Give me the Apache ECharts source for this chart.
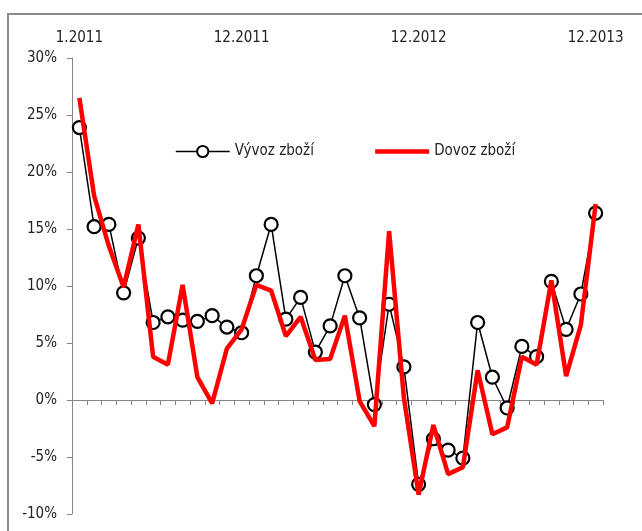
<!DOCTYPE html>
<html>
<head>
<meta charset="utf-8">
<script src="https://cdn.jsdelivr.net/npm/echarts@6/dist/echarts.min.js"></script>
<style>
html,body{margin:0;padding:0;background:#fff;}
#chart{width:642px;height:531px;}
</style>
</head>
<body>
<div id="chart"></div>
<script>
const months = [
  '1.2011','2.2011','3.2011','4.2011','5.2011','6.2011','7.2011','8.2011','9.2011','10.2011','11.2011','12.2011',
  '1.2012','2.2012','3.2012','4.2012','5.2012','6.2012','7.2012','8.2012','9.2012','10.2012','11.2012','12.2012',
  '1.2013','2.2013','3.2013','4.2013','5.2013','6.2013','7.2013','8.2013','9.2013','10.2013','11.2013','12.2013'
];
const shownLabels = ['1.2011','12.2011','12.2012','12.2013'];
const vyvoz = [23.9,15.2,15.4,9.4,14.2,6.8,7.3,7.0,6.9,7.4,6.4,5.9,
               10.9,15.4,7.1,9.0,4.2,6.5,10.9,7.2,-0.4,8.4,2.9,-7.4,
               -3.4,-4.4,-5.1,6.8,2.0,-0.7,4.7,3.8,10.4,6.2,9.3,16.4];
const dovoz = [26.5,17.9,13.5,9.9,15.4,3.8,3.1,10.1,2.0,-0.3,4.5,6.2,
               10.1,9.6,5.6,7.3,3.5,3.6,7.4,-0.1,-2.3,14.8,0.2,-8.3,
               -2.2,-6.5,-5.9,2.6,-3.0,-2.4,3.8,3.1,10.5,2.1,6.6,17.2];
const yTicks = {min:-10, max:30, step:5};

const FONT = "'Liberation Sans Narrow','DejaVu Sans Condensed',Arial,sans-serif";
const chart = echarts.init(document.getElementById('chart'));
chart.setOption({
  animation:false,
  backgroundColor:'#fff',
  graphic:[{type:'rect',shape:{x:8,y:14,width:700,height:600},
            style:{fill:'none',stroke:'#8c8c8c',lineWidth:2},silent:true}],
  grid:{left:72,top:58,right:39,bottom:17,containLabel:false},
  legend:{
    left:170, top:139, itemWidth:54, itemHeight:14, itemGap:59,
    textStyle:{fontFamily:FONT,fontSize:15,color:'#222'},
    data:[
      {name:'Vývoz zboží', lineStyle:{width:1.5}},
      {name:'Dovoz zboží', lineStyle:{width:4.5}, itemStyle:{color:'rgba(0,0,0,0)',borderWidth:0,opacity:0}}
    ]
  },
  xAxis:[{
    type:'category', data:months, position:'bottom', boundaryGap:true,
    axisLine:{onZero:true,lineStyle:{color:'#868686',width:1}},
    axisTick:{show:true,interval:0,length:5,inside:false,lineStyle:{color:'#868686'}},
    axisLabel:{show:false}, splitLine:{show:false}
  },{
    type:'category', data:months, position:'top', boundaryGap:true,
    axisLine:{show:false}, axisTick:{show:false}, splitLine:{show:false},
    axisLabel:{
      interval:0, margin:12,
      formatter:v=> shownLabels.includes(v)?v:'',
      fontFamily:FONT,fontSize:15,color:'#222'
    }
  }],
  yAxis:{
    type:'value', min:yTicks.min, max:yTicks.max, interval:yTicks.step,
    axisLine:{show:true,lineStyle:{color:'#868686',width:1}},
    axisTick:{show:true,length:5,lineStyle:{color:'#868686'}},
    splitLine:{show:false},
    axisLabel:{formatter:'{value}%',margin:15,fontFamily:FONT,fontSize:15,color:'#222'}
  },
  series:[{
    name:'Vývoz zboží', type:'line', data:vyvoz, xAxisIndex:0,
    symbol:'circle', symbolSize:13, showAllSymbol:true,
    lineStyle:{color:'#000',width:1.5},
    itemStyle:{color:'#fff',borderColor:'#000',borderWidth:2.2},
    z:2
  },{
    name:'Dovoz zboží', type:'line', data:dovoz, xAxisIndex:0,
    symbol:'none',
    lineStyle:{color:'#ff0000',width:4.5},
    itemStyle:{color:'#ff0000'},
    z:3
  }]
});
</script>
</body>
</html>
